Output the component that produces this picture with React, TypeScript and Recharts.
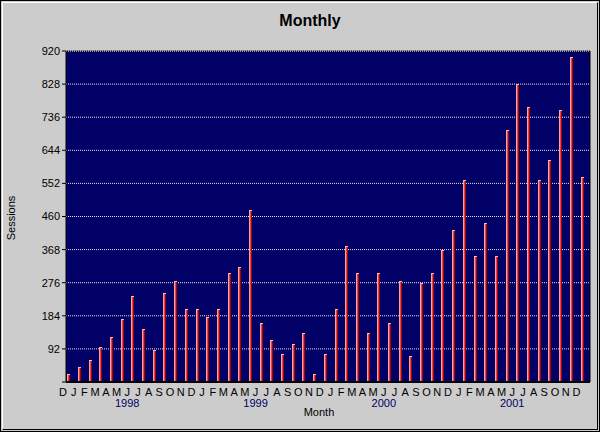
import { Bar, BarChart, CartesianGrid, ReferenceLine, XAxis, YAxis } from "recharts"

const months = [
  "D",
  "J", "F", "M", "A", "M", "J", "J", "A", "S", "O", "N", "D",
  "J", "F", "M", "A", "M", "J", "J", "A", "S", "O", "N", "D",
  "J", "F", "M", "A", "M", "J", "J", "A", "S", "O", "N", "D",
  "J", "F", "M", "A", "M", "J", "J", "A", "S", "O", "N", "D",
]

// sessions per month, Dec 1997 .. Dec 2001
const sessions = [
  23,
  43, 62, 98, 126, 174, 238, 146, 90, 246, 282, 202, 202,
  182, 202, 302, 321, 478, 163, 118, 79, 107, 135, 23, 79,
  202, 377, 302, 135, 302, 163, 282, 71, 274, 302, 366, 422,
  561, 349, 441, 349, 701, 829, 765, 561, 617, 756, 904, 570,
]

// year captions sit under the June letter of each year
const years = ["1998", "1999", "2000", "2001"]
const yearTickIndex = [6, 18, 30, 42]

const yTicks = [0, 92, 184, 276, 368, 460, 552, 644, 736, 828, 920]

const data = months.map((m, i) => ({ idx: i, month: m, sessions: sessions[i] }))

const font = "'Liberation Sans', Arial, sans-serif"

function MonthTick(props: any) {
  const { x, y, payload } = props
  const i = Number(payload.value)
  const yi = yearTickIndex.indexOf(i)
  const tx = x - 8.3
  return (
    <g>
      <text x={tx} y={y + 14} textAnchor="middle" fontSize={11} fontFamily={font} fill="#000">
        {months[i]}
      </text>
      {yi >= 0 && (
        <text x={tx} y={y + 25} textAnchor="middle" fontSize={11} fontFamily={font} fill="#000066">
          {years[yi]}
        </text>
      )}
    </g>
  )
}

function BarShape(props: any) {
  const { x, y, width, height } = props
  if (!height || height <= 0) return null
  const left = Math.round(x + width / 2 - 4.3)
  const top = Math.round(y)
  const h = Math.round(y + height) - top
  return (
    <g>
      <rect x={left} y={top} width={3} height={h} fill="#e04848" />
      <rect x={left} y={top} width={1} height={h} fill="#ffa0a0" />
      <rect x={left + 2} y={top} width={1} height={h} fill="#a80000" />
      <rect x={left} y={top} width={3} height={1} fill="#ffb8b8" />
    </g>
  )
}

export default function App() {
  return (
    <div style={{ position: "fixed", left: 0, top: 0, width: 600, height: 432, background: "#cccccc", fontFamily: font }}>
      <div style={{ position: "absolute", left: 0, top: 0, width: 598, height: 430, border: "1px solid #000" }} />
      <div
        style={{
          position: "absolute",
          left: 2,
          top: 2,
          width: 594,
          height: 426,
          borderTop: "1px solid #fff",
          borderLeft: "1px solid #fff",
          borderRight: "1px solid #000",
          borderBottom: "1px solid #000",
        }}
      />
      <div
        style={{
          position: "absolute",
          left: 310,
          top: 11,
          transform: "translateX(-50%)",
          whiteSpace: "nowrap",
          fontSize: 16,
          fontWeight: "bold",
          lineHeight: "20px",
        }}
      >
        Monthly
      </div>
      <div style={{ position: "absolute", left: 0, top: 0 }}>
        <BarChart width={600} height={432} data={data} margin={{ top: 51, right: 9, bottom: 10, left: 10 }}>
          <CartesianGrid vertical={false} stroke="#e8e8e8" strokeDasharray="1 1" fill="#000066" />
          <XAxis
            dataKey="idx"
            interval={0}
            height={40}
            tickLine={false}
            tickSize={0}
            tickMargin={0}
            axisLine={{ stroke: "#000", strokeWidth: 2 }}
            tick={<MonthTick />}
          />
          <YAxis
            width={56}
            domain={[0, 920]}
            ticks={yTicks}
            interval={0}
            tickSize={4}
            tickMargin={2}
            tickLine={{ stroke: "#000" }}
            axisLine={{ stroke: "#000" }}
            tickFormatter={(v: number) => (v === 0 ? "" : String(v))}
            tick={{ fill: "#000", fontSize: 11, fontFamily: font }}
          />
          <YAxis
            yAxisId="right"
            orientation="right"
            width={1}
            domain={[0, 920]}
            tick={false}
            tickLine={false}
            axisLine={{ stroke: "#000" }}
          />
          <ReferenceLine y={920} stroke="#000" />
          <ReferenceLine y={920} stroke="#e8e8e8" strokeDasharray="1 1" />
          <Bar dataKey="sessions" barSize={3} shape={<BarShape />} isAnimationActive={false} />
        </BarChart>
      </div>
      <div
        style={{
          position: "absolute",
          left: 10.5,
          top: 217.5,
          transform: "translate(-50%, -50%) rotate(-90deg)",
          fontSize: 11,
          lineHeight: "12px",
          whiteSpace: "nowrap",
        }}
      >
        Sessions
      </div>
      <div
        style={{
          position: "absolute",
          left: 319,
          top: 406,
          transform: "translateX(-50%)",
          fontSize: 11,
          lineHeight: "12px",
        }}
      >
        Month
      </div>
    </div>
  )
}
